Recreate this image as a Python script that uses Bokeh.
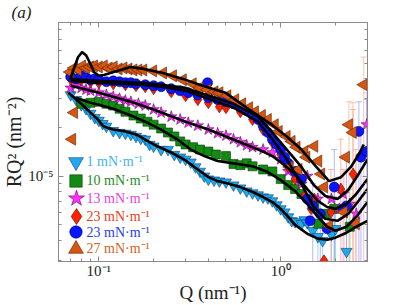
import numpy as np
from bokeh.plotting import figure
from bokeh.models import (ColumnDataSource, Range1d, FixedTicker, CustomJSTickFormatter,
                          LogAxis, Legend, LegendItem, Label, Whisker, TeeHead)
from bokeh.embed import file_html
from bokeh.resources import INLINE

# ---------------- data ----------------
# 1 mN/m
q1 = [0.070, 0.075, 0.080, 0.085, 0.090, 0.095, 0.100, 0.105, 0.110, 0.120, 0.130, 0.140, 0.150,
      0.160, 0.170, 0.180, 0.190, 0.200, 0.220, 0.240, 0.260, 0.280, 0.300, 0.320, 0.340, 0.360,
      0.380, 0.400, 0.430, 0.460, 0.500, 0.550, 0.600, 0.650, 0.700, 0.750, 0.800, 0.850, 0.900,
      0.950, 1.00, 1.05, 1.10, 1.15, 1.20, 1.30, 1.35, 1.40, 1.50, 1.60, 1.70, 1.90, 2.00, 2.30]
r1 = [3.18e-5, 2.97e-5, 2.76e-5, 2.61e-5, 2.44e-5, 2.30e-5, 2.21e-5, 2.11e-5, 2.03e-5, 1.91e-5,
      1.86e-5, 1.84e-5, 1.81e-5, 1.76e-5, 1.71e-5, 1.69e-5, 1.57e-5, 1.53e-5, 1.46e-5, 1.46e-5,
      1.36e-5, 1.31e-5, 1.27e-5, 1.22e-5, 1.14e-5, 1.07e-5, 1.00e-5, 9.59e-6, 9.45e-6, 9.32e-6,
      9.19e-6, 8.81e-6, 8.44e-6, 8.09e-6, 7.87e-6, 7.65e-6, 7.43e-6, 7.33e-6, 7.03e-6, 6.64e-6,
      6.28e-6, 6.00e-6, 5.60e-6, 5.30e-6, 5.22e-6, 5.08e-6, 5.37e-6, 5.15e-6, 4.60e-6, 4.23e-6,
      3.99e-6, 4.35e-6, 4.73e-6, 3.42e-6]
fq1 = [0.068, 0.08, 0.09, 0.10, 0.105, 0.11, 0.12, 0.14, 0.16, 0.20, 0.25, 0.30, 0.35, 0.40, 0.45,
       0.50, 0.60, 0.70, 0.80, 0.90, 1.0, 1.1, 1.2, 1.4, 1.6, 1.8, 2.0, 2.3, 2.6, 3.0]
fr1 = [3.28e-5, 2.80e-5, 2.47e-5, 2.21e-5, 2.05e-5, 2.00e-5, 1.94e-5, 1.89e-5, 1.81e-5, 1.57e-5,
       1.40e-5, 1.25e-5, 1.10e-5, 9.86e-6, 9.32e-6, 9.06e-6, 8.56e-6, 7.98e-6, 7.43e-6, 6.92e-6,
       6.28e-6, 5.60e-6, 5.00e-6, 4.41e-6, 4.11e-6, 4.05e-6, 4.17e-6, 4.47e-6, 4.87e-6, 5.30e-6]

# 10 mN/m
q2 = [0.08, 0.09, 0.10, 0.11, 0.12, 0.13, 0.14, 0.155, 0.17, 0.185, 0.20, 0.22, 0.24, 0.26, 0.28,
      0.30, 0.33, 0.36, 0.40, 0.44, 0.50, 0.55, 0.60, 0.65, 0.70, 0.80, 0.90, 1.0, 1.1, 1.2, 1.3,
      1.53, 1.61, 1.75, 1.97, 2.4]
r2 = [2.80e-5, 2.84e-5, 2.88e-5, 2.80e-5, 2.73e-5, 2.61e-5, 2.50e-5, 2.37e-5, 2.27e-5, 2.17e-5,
      2.08e-5, 1.97e-5, 1.86e-5, 1.76e-5, 1.64e-5, 1.57e-5, 1.51e-5, 1.46e-5, 1.42e-5, 1.36e-5,
      1.33e-5, 1.19e-5, 1.17e-5, 1.20e-5, 1.15e-5, 1.10e-5, 1.07e-5, 9.59e-6, 8.81e-6, 8.32e-6,
      7.76e-6, 6.55e-6, 5.08e-6, 5.85e-6, 6.28e-6, 4.87e-6]
fq2 = [0.075, 0.09, 0.10, 0.12, 0.15, 0.18, 0.22, 0.27, 0.32, 0.38, 0.45, 0.55, 0.70, 0.85, 1.0,
       1.2, 1.4, 1.6, 1.8, 2.0, 2.3, 2.6, 3.0]
fr2 = [3.05e-5, 2.84e-5, 2.76e-5, 2.61e-5, 2.37e-5, 2.17e-5, 1.94e-5, 1.69e-5, 1.46e-5, 1.33e-5,
       1.24e-5, 1.20e-5, 1.15e-5, 1.06e-5, 9.45e-6, 8.09e-6, 6.73e-6, 5.60e-6, 4.87e-6, 4.60e-6,
       4.87e-6, 5.60e-6, 6.92e-6]

# 13 mN/m
q3 = [0.07, 0.075, 0.08, 0.085, 0.09, 0.10, 0.11, 0.12, 0.13, 0.14, 0.15, 0.165, 0.18, 0.20, 0.22,
      0.25, 0.28, 0.31, 0.35, 0.40, 0.45, 0.50, 0.55, 0.60, 0.65, 0.70, 0.80, 0.90, 1.0, 1.1, 1.2,
      1.3, 1.4, 1.6, 1.9, 2.1, 2.2, 2.4, 2.6, 2.97]
r3 = [3.51e-5, 3.67e-5, 3.51e-5, 3.42e-5, 3.37e-5, 3.28e-5, 3.18e-5, 3.10e-5, 3.01e-5, 2.93e-5,
      2.88e-5, 2.80e-5, 2.73e-5, 2.58e-5, 2.47e-5, 2.33e-5, 2.24e-5, 2.14e-5, 2.05e-5, 1.94e-5,
      1.84e-5, 1.78e-5, 1.69e-5, 1.62e-5, 1.55e-5, 1.51e-5, 1.46e-5, 1.40e-5, 1.27e-5, 1.07e-5,
      1.03e-5, 8.93e-6, 1.00e-5, 7.23e-6, 7.23e-6, 6.28e-6, 7.76e-6, 6.73e-6, 5.85e-6, 2.08e-5]
fq3 = [0.07, 0.10, 0.15, 0.20, 0.30, 0.40, 0.50, 0.60, 0.70, 0.80, 0.90, 1.0, 1.2, 1.4, 1.6, 1.8,
       2.0, 2.3, 2.6, 3.0]
fr3 = [3.62e-5, 3.28e-5, 2.88e-5, 2.58e-5, 2.17e-5, 1.94e-5, 1.76e-5, 1.62e-5, 1.51e-5, 1.42e-5,
       1.33e-5, 1.22e-5, 1.03e-5, 8.32e-6, 7.03e-6, 6.45e-6, 6.28e-6, 6.73e-6, 7.76e-6, 9.59e-6]

# 23 mN/m (red diamonds)
q4 = [0.07, 0.08, 0.09, 0.10, 0.12, 0.14, 0.16, 0.18, 0.20, 0.25, 0.30, 0.35, 0.40, 0.46, 0.50,
      0.60, 0.70, 0.80, 0.90, 1.0, 1.1, 1.2, 1.35, 1.47, 1.53, 1.73, 1.89, 2.14, 2.5]
r4 = [3.99e-5, 3.94e-5, 3.83e-5, 3.78e-5, 3.72e-5, 3.67e-5, 3.62e-5, 3.57e-5, 3.47e-5, 3.32e-5,
      3.14e-5, 2.97e-5, 2.84e-5, 2.68e-5, 2.65e-5, 2.50e-5, 2.24e-5, 1.94e-5, 1.62e-5, 1.36e-5,
      1.14e-5, 9.60e-6, 7.54e-6, 6.28e-6, 7.23e-6, 3.00e-6, 6.00e-6, 8.32e-6, 1.03e-5]
fq4 = [0.07, 0.08, 0.10, 0.13, 0.17, 0.22, 0.30, 0.40, 0.55, 0.75, 0.90, 1.08, 1.30, 1.52, 1.76,
       2.05, 2.35, 2.65, 3.0]
fr4 = [3.88e-5, 3.83e-5, 3.78e-5, 3.72e-5, 3.67e-5, 3.57e-5, 3.37e-5, 3.01e-5, 2.65e-5, 2.17e-5,
       1.69e-5, 1.27e-5, 8.93e-6, 6.45e-6, 5.45e-6, 5.30e-6, 5.85e-6, 6.92e-6, 8.32e-6]

# 23 mN/m (blue circles)
q5 = [0.07, 0.075, 0.08, 0.085, 0.09, 0.095, 0.10, 0.11, 0.12, 0.13, 0.14, 0.15, 0.16, 0.18, 0.20,
      0.22, 0.25, 0.28, 0.31, 0.35, 0.396, 0.40, 0.45, 0.50, 0.55, 0.60, 0.65, 0.70, 0.75, 0.80,
      0.85, 0.90, 0.95, 1.0, 1.05, 1.1, 1.2, 1.3, 1.4, 1.5, 1.65, 1.97, 2.3, 2.69, 2.76, 2.97,
      1.45, 1.8, 2.2]
r5 = [4.11e-5, 3.99e-5, 4.17e-5, 4.05e-5, 3.94e-5, 3.99e-5, 3.94e-5, 3.83e-5, 3.88e-5, 3.83e-5,
      3.78e-5, 3.78e-5, 3.72e-5, 3.67e-5, 3.62e-5, 3.57e-5, 3.47e-5, 3.37e-5, 3.28e-5, 3.18e-5,
      3.78e-5, 3.05e-5, 2.97e-5, 2.88e-5, 2.80e-5, 2.68e-5, 2.54e-5, 2.40e-5, 2.24e-5, 2.05e-5,
      1.86e-5, 1.69e-5, 1.57e-5, 1.46e-5, 1.31e-5, 1.20e-5, 1.07e-5, 9.59e-6, 7.23e-6, 6.55e-6,
      5.85e-6, 8.56e-6, 6.55e-6, 1.89e-5, 1.31e-5, 1.42e-5, 5.30e-6, 4.73e-6, 6.28e-6]
fq5 = [0.07, 0.08, 0.10, 0.13, 0.17, 0.22, 0.30, 0.40, 0.55, 0.75, 0.90, 1.08, 1.30, 1.52, 1.76,
       2.05, 2.35, 2.65, 3.0]
fr5 = [3.99e-5, 3.94e-5, 3.88e-5, 3.83e-5, 3.78e-5, 3.67e-5, 3.51e-5, 3.14e-5, 2.80e-5, 2.33e-5,
       1.86e-5, 1.46e-5, 1.14e-5, 8.81e-6, 7.54e-6, 7.23e-6, 8.21e-6, 1.01e-5, 1.27e-5]

# 27 mN/m
q6 = [0.0695, 0.0731, 0.0769, 0.0809, 0.085, 0.0894, 0.094, 0.1, 0.1065, 0.1133, 0.1207, 0.1285,
      0.1367, 0.1456, 0.155, 0.165, 0.1756, 0.199, 0.2255, 0.2556, 0.2897, 0.3283, 0.358, 0.396,
      0.4325, 0.4603, 0.509, 0.5623, 0.614, 0.670, 0.722, 0.788, 0.8497, 0.9277, 0.975, 1.078,
      1.148, 1.222, 1.35, 1.384, 1.53, 1.609, 1.67, 1.735, 1.253, 1.119, 2.284, 2.372, 2.493,
      2.861, 2.228, 2.588, 1.846, 0.0731, 0.0713]
r6 = [4.40e-5, 4.66e-5, 4.53e-5, 4.80e-5, 4.66e-5, 4.73e-5, 4.80e-5, 4.73e-5, 4.80e-5, 4.66e-5,
      4.73e-5, 4.60e-5, 4.66e-5, 4.60e-5, 4.53e-5, 4.53e-5, 4.53e-5, 4.47e-5, 4.34e-5, 4.17e-5,
      3.94e-5, 3.72e-5, 3.51e-5, 3.42e-5, 3.32e-5, 3.28e-5, 3.14e-5, 2.97e-5, 2.80e-5, 2.65e-5,
      2.50e-5, 2.37e-5, 2.24e-5, 2.08e-5, 1.89e-5, 1.76e-5, 1.64e-5, 1.51e-5, 1.42e-5, 1.31e-5,
      1.53e-5, 1.24e-5, 1.03e-5, 8.56e-6, 1.10e-5, 1.14e-5, 1.31e-5, 2.08e-5, 1.86e-5, 3.67e-5,
      6.00e-6, 5.08e-6, 4.93e-6, 2.47e-5, 1.69e-5]
fq6 = [0.0695, 0.0731, 0.0769, 0.0809, 0.085, 0.0894, 0.094, 0.1, 0.1065, 0.1207, 0.149, 0.1756,
       0.2255, 0.2897, 0.372, 0.496, 0.670, 0.8935, 1.078, 1.301, 1.569, 1.846, 2.146, 2.432,
       2.686, 2.861]
fr6 = [3.94e-5, 4.66e-5, 5.45e-5, 5.84e-5, 5.59e-5, 5.00e-5, 4.40e-5, 4.17e-5, 4.22e-5, 4.40e-5,
       4.73e-5, 4.60e-5, 4.34e-5, 3.99e-5, 3.62e-5, 3.28e-5, 2.58e-5, 2.08e-5, 1.76e-5, 1.46e-5,
       1.14e-5, 9.32e-6, 9.86e-6, 1.14e-5, 1.36e-5, 1.57e-5]

# error bars (high-Q points)
eq1 = [1.6, 1.7, 1.9, 2.0, 2.3]
ehi1 = [5.5e-6, 5.2e-6, 6.28e-6, 7.23e-6, 5.85e-6]
elo1 = [2.5e-6, 2.5e-6, 2.5e-6, 2.5e-6, 2.5e-6]
eq2 = [1.97, 2.4]
ehi2 = [9.59e-6, 8.32e-6]
elo2 = [2.5e-6, 2.5e-6]
eq3 = [2.2, 2.6, 2.97]
ehi3 = [1.10e-5, 1.27e-5, 3.28e-5]
elo3 = [2.5e-6, 2.5e-6, 1.36e-5]
eq4 = [1.89, 2.14, 2.5]
ehi4 = [1.10e-5, 1.69e-5, 2.58e-5]
elo4 = [2.5e-6, 2.5e-6, 2.5e-6]
eq5 = [1.5, 1.65, 1.97, 2.3, 2.69, 2.76, 2.97]
ehi5 = [9.0e-6, 8.0e-6, 1.46e-5, 1.27e-5, 2.88e-5, 1.94e-5, 2.97e-5]
elo5 = [2.5e-6, 2.5e-6, 2.5e-6, 2.5e-6, 2.5e-6, 2.5e-6, 2.5e-6]
eq6 = [2.228, 2.372, 2.493, 2.588, 2.861]
ehi6 = [1.10e-5, 2.88e-5, 2.84e-5, 1.46e-5, 5.45e-5]
elo6 = [2.5e-6, 2.5e-6, 2.5e-6, 2.5e-6, 2.5e-6]

labels = ["1 mN\u00b7m\u207b\u00b9", "10 mN\u00b7m\u207b\u00b9", "13 mN\u00b7m\u207b\u00b9",
          "23 mN\u00b7m\u207b\u00b9", "23 mN\u00b7m\u207b\u00b9", "27 mN\u00b7m\u207b\u00b9"]
x_title = "Q (nm\u207b\u00b9)"
y_title = "RQ\u00b2 (nm\u207b\u00b2)"
panel_tag = "(a)"

x_major = [0.1, 1.0]
x_minor = [0.06, 0.07, 0.08, 0.09, 0.2, 0.3, 0.4, 0.5, 0.6, 0.7, 0.8, 0.9, 2.0, 3.0]
y_major = [1e-5]
y_minor = [3e-6, 4e-6, 5e-6, 6e-6, 7e-6, 8e-6, 9e-6, 2e-5, 3e-5, 4e-5, 5e-5, 6e-5, 7e-5, 8e-5, 9e-5]

# ---------------- styling / layout ----------------
FONT = "Liberation Serif"
AX = "#8a8a8a"
INK = "#222222"
W, H = 407, 305
BL, BR, BT, BB = 54, 40, 22, 42
FW, FH = W - BL - BR, H - BT - BB

series = [
    dict(q=q1, r=r1, fq=fq1, fr=fr1, eq=eq1, ehi=ehi1, elo=elo1, marker="inverted_triangle",
         size=11, angle=0.0, fill="#1faaf0", line="#0b3c6e", text="#45b2ee", err="#7cc8f5", gw=37),
    dict(q=q2, r=r2, fq=fq2, fr=fr2, eq=eq2, ehi=ehi2, elo=elo2, marker="square",
         size=9, angle=0.0, fill="#138a13", line="#0a3d0a", text="#1e8c1e", err="#80c080", gw=31),
    dict(q=q3, r=r3, fq=fq3, fr=fr3, eq=eq3, ehi=ehi3, elo=elo3, marker="star",
         size=12, angle=0.0, fill="#ff30ff", line="#6a006a", text="#e640e6", err="#ff9cff", gw=42),
    dict(q=q4, r=r4, fq=fq4, fr=fr4, eq=eq4, ehi=ehi4, elo=elo4, marker="diamond",
         size=12, angle=0.0, fill="#ff2200", line="#5a0a00", text="#f03a14", err="#ff9c8c", gw=40),
    dict(q=q5, r=r5, fq=fq5, fr=fr5, eq=eq5, ehi=ehi5, elo=elo5, marker="circle",
         size=10, angle=0.0, fill="#0a14ff", line="#000066", text="#1f3ef2", err="#9c9cff", gw=31),
    dict(q=q6, r=r6, fq=fq6, fr=fr6, eq=eq6, ehi=ehi6, elo=elo6, marker="triangle",
         size=12, angle=np.pi / 2, fill="#d6560f", line="#5a2200", text="#d2601e", err="#f5b48c", gw=37),
]
legend_cy = [163, 182, 200, 217.5, 233.5, 250]   # page y of legend rows (layout)

p = figure(width=W, height=H, x_axis_type="log", y_axis_type="log",
           x_range=Range1d(0.06, 3.0), y_range=Range1d(2.97e-6, 8.9e-5),
           output_backend="svg", toolbar_location=None,
           min_border_left=BL, min_border_right=BR, min_border_top=BT, min_border_bottom=BB)
p.grid.visible = False
p.outline_line_color = AX
p.background_fill_color = "white"
p.border_fill_color = "white"

p.title.text = panel_tag
p.title.text_font = FONT
p.title.text_font_size = "17px"
p.title.text_font_style = "italic"
p.title.text_color = INK
p.title.align = "left"
p.title.offset = -47
p.title.standoff = 1

xt = FixedTicker(ticks=x_major, minor_ticks=x_minor)
yt = FixedTicker(ticks=y_major, minor_ticks=y_minor)
sup_js = """
const sup = {"-": "\\u207b", "0": "\\u2070", "1": "\\u00b9", "2": "\\u00b2", "3": "\\u00b3",
             "4": "\\u2074", "5": "\\u2075", "6": "\\u2076", "7": "\\u2077", "8": "\\u2078", "9": "\\u2079"};
const e = Math.round(Math.log10(tick));
return "10" + String(e).split("").map(c => sup[c]).join("");
"""
fmt = CustomJSTickFormatter(code=sup_js)
blank = CustomJSTickFormatter(code="return '';")


def style_axis(ax, labels_on, title_px="19px"):
    ax.axis_line_color = AX
    ax.major_tick_line_color = AX
    ax.minor_tick_line_color = AX
    ax.major_tick_in = 5
    ax.major_tick_out = 0
    ax.minor_tick_in = 3
    ax.minor_tick_out = 0
    ax.major_label_text_font = FONT
    ax.major_label_text_font_size = "15px" if labels_on else "0px"
    ax.major_label_text_color = INK
    ax.axis_label_text_font = FONT
    ax.axis_label_text_font_size = title_px
    ax.axis_label_text_font_style = "normal"
    ax.axis_label_text_color = INK


xa, ya = p.xaxis[0], p.yaxis[0]
xa.ticker = xt
ya.ticker = yt
xa.formatter = fmt
ya.formatter = fmt
style_axis(xa, True, "19px")
style_axis(ya, True, "20px")
xa.major_label_standoff = 1
ya.major_label_standoff = 5
xa.axis_label = x_title
ya.axis_label = y_title
xa.axis_label_standoff = 0
ya.axis_label_standoff = 0

top = LogAxis(ticker=xt, formatter=blank, major_label_standoff=0)
right = LogAxis(ticker=yt, formatter=blank, major_label_standoff=0)
style_axis(top, False)
style_axis(right, False)
p.add_layout(top, "above")
p.add_layout(right, "right")

# error bars
for s in series:
    src = ColumnDataSource(dict(q=s["eq"], hi=s["ehi"], lo=s["elo"]))
    w = Whisker(source=src, base="q", upper="hi", lower="lo", dimension="height",
                line_color=s["err"], line_alpha=0.75, line_width=1,
                upper_head=TeeHead(size=6, line_color=s["err"], line_alpha=0.75, line_width=1),
                lower_head=TeeHead(size=6, line_color=s["err"], line_alpha=0.75, line_width=1))
    p.add_layout(w)

# markers
rends = []
for s in series:
    r = p.scatter(x=s["q"], y=s["r"], marker=s["marker"], size=s["size"], angle=s["angle"],
                  fill_color=s["fill"], line_color=s["line"], line_width=0.6)
    rends.append(r)

# fits
for s in series:
    p.line(x=s["fq"], y=s["fr"], line_color="black", line_width=2.6)

# legend: symbols from Legend objects, coloured texts as labels
FRAME_LEFT_PAGE, FRAME_BOTTOM_PAGE = BL, BT + FH
SYM_X, TXT_X = 71.5, 82
for s, r, lab, cy in zip(series, rends, labels, legend_cy):
    gw = s["gw"]
    lx = (SYM_X - FRAME_LEFT_PAGE) - gw / 2
    ly = (FRAME_BOTTOM_PAGE - cy) - gw / 2
    leg = Legend(items=[LegendItem(label=" ", renderers=[r])], location=(lx, ly),
                 glyph_width=gw, glyph_height=gw, label_height=4, label_width=1,
                 label_standoff=0, padding=0, spacing=0, margin=0,
                 border_line_color=None, background_fill_alpha=0.0,
                 label_text_font_size="4px")
    p.add_layout(leg, "center")
    p.add_layout(Label(x=TXT_X - FRAME_LEFT_PAGE, y=FRAME_BOTTOM_PAGE - cy,
                       x_units="screen", y_units="screen", text=lab,
                       text_font=FONT, text_font_size="14px", text_color=s["text"],
                       text_align="left", text_baseline="middle"))

open("out.html", "w").write(file_html(p, INLINE))
